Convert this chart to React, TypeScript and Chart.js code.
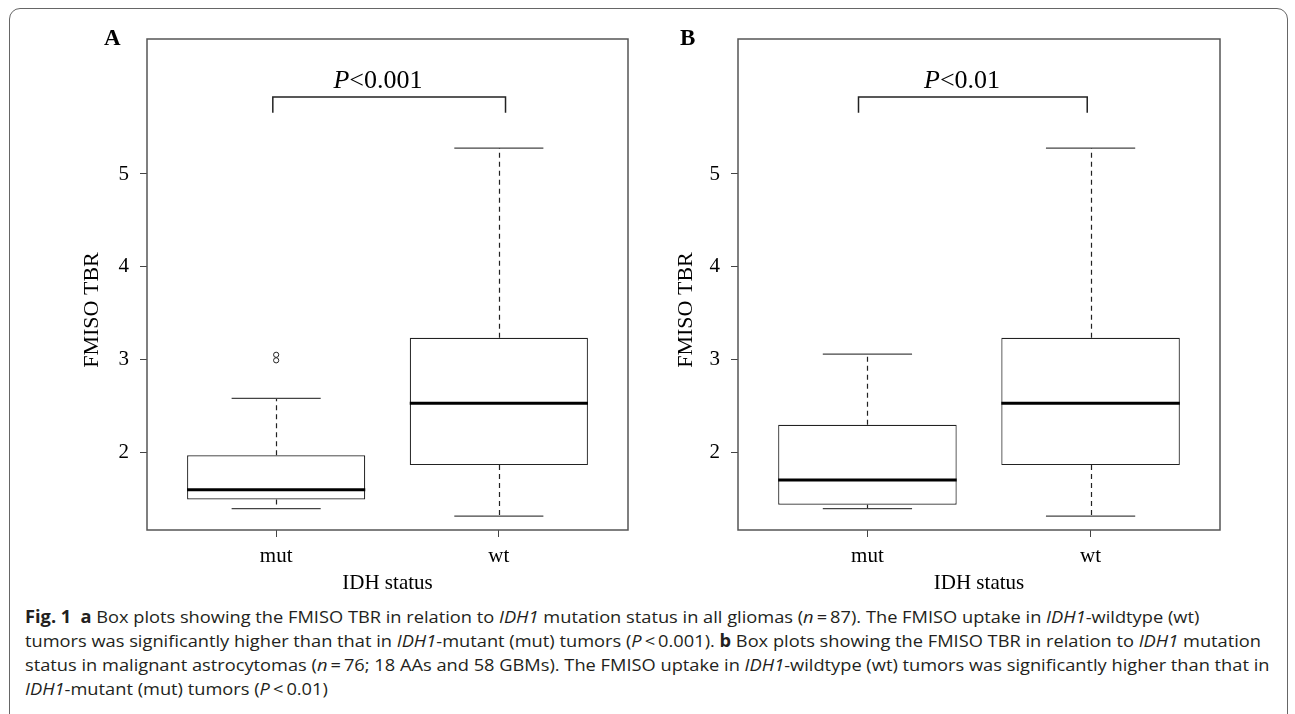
import React, { useEffect, useLayoutEffect, useRef } from 'react';
import { Chart, registerables } from 'chart.js';

Chart.register(...registerables);

// ---------------- data ----------------
const categories = ['mut', 'wt'];
const categoryPositions = [1, 2];
const yTickValues = [2, 3, 4, 5];

// Panel A (all gliomas)
const aLow = [1.39, 1.31];
const aQ1 = [1.49, 1.86];
const aMedian = [1.595, 2.526];
const aQ3 = [1.965, 3.234];
const aHigh = [2.58, 5.28];
const aOutlierCategory = [1, 1];
const aOutlierValue = [3.05, 2.99];

// Panel B (malignant astrocytomas)
const bLow = [1.39, 1.31];
const bQ1 = [1.433, 1.86];
const bMedian = [1.699, 2.526];
const bQ3 = [2.296, 3.234];
const bHigh = [3.058, 5.28];
const bOutlierCategory: number[] = [];
const bOutlierValue: number[] = [];

const pValueTexts = ['<0.001', '<0.01'];
const panelLetters = ['A', 'B'];
const yAxisTitle = 'FMISO TBR';
const xAxisTitle = 'IDH status';

// ---------------- layout / style ----------------
const SERIF = '"Liberation Serif", "Times New Roman", Times, serif';
const Y_MIN = 1.16;
const Y_MAX = 6.456;
const X_MIN = 0.42;
const X_MAX = 2.58;
const CANVAS_H = 600;

type Panel = {
  low: number[]; q1: number[]; median: number[]; q3: number[]; high: number[];
  outCat: number[]; outVal: number[];
  pText: string; letter: string;
  canvasLeft: number; canvasWidth: number; yAxisWidth: number; rightPad: number;
  yTitleX: number; yTitleY: number; letterLeft: number;
  bracketX: [number, number]; bracketY: [number, number]; pX: number; pY: number;
};

const panels: Panel[] = [
  {
    low: aLow, q1: aQ1, median: aMedian, q3: aQ3, high: aHigh,
    outCat: aOutlierCategory, outVal: aOutlierValue,
    pText: pValueTexts[0], letter: panelLetters[0],
    canvasLeft: 0, canvasWidth: 645, yAxisWidth: 147, rightPad: 17,
    yTitleX: 92, yTitleY: 310, letterLeft: 104,
    bracketX: [0.985, 2.03], bracketY: [5.66, 5.83], pX: 1.457, pY: 5.93,
  },
  {
    low: bLow, q1: bQ1, median: bMedian, q3: bQ3, high: bHigh,
    outCat: bOutlierCategory, outVal: bOutlierValue,
    pText: pValueTexts[1], letter: panelLetters[1],
    canvasLeft: 645, canvasWidth: 650, yAxisWidth: 93, rightPad: 75,
    yTitleX: 41, yTitleY: 310, letterLeft: 680,
    bracketX: [0.96, 1.985], bracketY: [5.66, 5.83], pX: 1.424, pY: 5.93,
  },
];

const boxExtras = {
  id: 'boxExtras',
  afterDatasetsDraw(chart: any, _args: any, opts: any) {
    const p: Panel = opts.panel;
    const { ctx, chartArea } = chart;
    const xs = chart.scales.x;
    const ys = chart.scales.y;
    const X = (v: number) => xs.getPixelForValue(v);
    const Y = (v: number) => ys.getPixelForValue(v);
    const seg = (x1: number, y1: number, x2: number, y2: number) => {
      ctx.beginPath();
      ctx.moveTo(x1, y1);
      ctx.lineTo(x2, y2);
      ctx.stroke();
    };
    ctx.save();
    categoryPositions.forEach((pos, i) => {
      const cx = Math.round(X(pos)) + 0.5;
      ctx.strokeStyle = '#222';
      ctx.lineWidth = 1.2;
      ctx.setLineDash([5, 4]);
      seg(cx, Y(p.q3[i]), cx, Y(p.high[i]));
      seg(cx, Y(p.q1[i]), cx, Y(p.low[i]));
      ctx.setLineDash([]);
      ctx.strokeStyle = '#444';
      seg(X(pos - 0.2), Y(p.high[i]), X(pos + 0.2), Y(p.high[i]));
      seg(X(pos - 0.2), Y(p.low[i]), X(pos + 0.2), Y(p.low[i]));
      ctx.strokeStyle = '#000';
      ctx.lineWidth = 3;
      seg(X(pos - 0.4), Y(p.median[i]), X(pos + 0.4), Y(p.median[i]));
    });
    // frame
    ctx.strokeStyle = '#555';
    ctx.lineWidth = 1.5;
    ctx.strokeRect(chartArea.left, chartArea.top, chartArea.right - chartArea.left, chartArea.bottom - chartArea.top);
    // significance bracket
    ctx.strokeStyle = '#222';
    ctx.lineWidth = 1.5;
    ctx.beginPath();
    ctx.moveTo(X(p.bracketX[0]), Y(p.bracketY[0]));
    ctx.lineTo(X(p.bracketX[0]), Y(p.bracketY[1]));
    ctx.lineTo(X(p.bracketX[1]), Y(p.bracketY[1]));
    ctx.lineTo(X(p.bracketX[1]), Y(p.bracketY[0]));
    ctx.stroke();
    // P text
    ctx.fillStyle = '#000';
    ctx.textBaseline = 'alphabetic';
    ctx.textAlign = 'left';
    ctx.font = `italic 26px ${SERIF}`;
    const wP = ctx.measureText('P').width;
    ctx.font = `26px ${SERIF}`;
    const wR = ctx.measureText(p.pText).width;
    const sx = X(p.pX) - (wP + wR) / 2;
    const by = Y(p.pY);
    ctx.font = `italic 26px ${SERIF}`;
    ctx.fillText('P', sx, by);
    ctx.font = `26px ${SERIF}`;
    ctx.fillText(p.pText, sx + wP, by);
    // y axis title
    ctx.translate(p.yTitleX, p.yTitleY);
    ctx.rotate(-Math.PI / 2);
    ctx.textAlign = 'center';
    ctx.textBaseline = 'middle';
    ctx.font = `22px ${SERIF}`;
    ctx.fillText(yAxisTitle, 0, 0);
    ctx.restore();
  },
};

function PanelChart({ p }: { p: Panel }) {
  const ref = useRef<HTMLCanvasElement | null>(null);
  useEffect(() => {
    if (!ref.current) return;
    const font = { family: SERIF, size: 21 };
    const chart = new Chart(ref.current, {
      type: 'bar',
      data: {
        datasets: [
          {
            type: 'bar',
            data: categoryPositions.map((x, i) => ({ x, y: [p.q1[i], p.q3[i]] })) as any,
            backgroundColor: '#ffffff',
            borderColor: '#222',
            borderWidth: 1.2,
            borderSkipped: false,
            barPercentage: 0.8,
            categoryPercentage: 1,
            order: 2,
          } as any,
          {
            type: 'scatter',
            data: p.outCat.map((c, i) => ({ x: c, y: p.outVal[i] })),
            pointStyle: 'circle',
            pointRadius: 2.6,
            borderColor: '#222',
            backgroundColor: 'rgba(0,0,0,0)',
            borderWidth: 1,
            order: 0,
          } as any,
        ],
      },
      options: {
        responsive: false,
        animation: false,
        devicePixelRatio: 1,
        layout: { padding: { top: 39, left: 0, right: p.rightPad, bottom: 0 } },
        plugins: {
          legend: { display: false },
          tooltip: { enabled: false },
          boxExtras: { panel: p },
        } as any,
        scales: {
          x: {
            type: 'linear',
            min: X_MIN,
            max: X_MAX,
            offset: false,
            afterBuildTicks: (s: any) => { s.ticks = categoryPositions.map((v) => ({ value: v })); },
            afterFit: (s: any) => { s.height = CANVAS_H - 530; },
            ticks: {
              font,
              color: '#000',
              padding: 7,
              maxRotation: 0,
              autoSkip: false,
              callback: (v: any) => categories[categoryPositions.indexOf(Number(v))] ?? '',
            },
            grid: { display: true, drawOnChartArea: false, drawTicks: true, tickLength: 7, color: '#444', offset: false },
            border: { display: false },
            title: { display: true, text: xAxisTitle, font, color: '#000', padding: { top: 0, bottom: 4 } },
          },
          y: {
            type: 'linear',
            min: Y_MIN,
            max: Y_MAX,
            afterBuildTicks: (s: any) => { s.ticks = yTickValues.map((v) => ({ value: v })); },
            afterFit: (s: any) => { s.width = p.yAxisWidth; },
            ticks: { font, color: '#000', padding: 11, callback: (v: any) => String(v) },
            grid: { display: true, drawOnChartArea: false, drawTicks: true, tickLength: 7, color: '#444' },
            border: { display: false },
            title: { display: false },
          },
        } as any,
      },
      plugins: [boxExtras as any],
    });
    return () => chart.destroy();
  }, [p]);
  return (
    <canvas
      ref={ref}
      width={p.canvasWidth}
      height={CANVAS_H}
      style={{ position: 'absolute', left: p.canvasLeft, top: 0, width: p.canvasWidth, height: CANVAS_H }}
    />
  );
}

const captionRefLine = 1;
const captionRefWidth = 1236;
const captionTop = 605;
const captionLineHeight = 24;

export default function App() {
  const capRefs = useRef<(HTMLSpanElement | null)[]>([]);
  useLayoutEffect(() => {
    const els = capRefs.current;
    els.forEach((el) => { if (el) el.style.transform = 'none'; });
    const refEl = els[captionRefLine];
    if (!refEl) return;
    const w = refEl.getBoundingClientRect().width;
    if (w <= 0) return;
    const s = captionRefWidth / w;
    els.forEach((el) => { if (el) el.style.transform = `scaleX(${s})`; });
  }, []);

  const capLines: React.ReactNode[] = [
    <>
      <b>Fig. 1</b>{'\u2002'}<b>a</b> Box plots showing the FMISO TBR in relation to <i>IDH1</i> mutation status in all gliomas (<i>n</i>{'\u2009=\u2009'}87). The FMISO uptake in <i>IDH1</i>-wildtype (wt)
    </>,
    <>
      tumors was significantly higher than that in <i>IDH1</i>-mutant (mut) tumors (<i>P</i>{'\u2009<\u2009'}0.001). <b>b</b> Box plots showing the FMISO TBR in relation to <i>IDH1</i> mutation
    </>,
    <>
      status in malignant astrocytomas (<i>n</i>{'\u2009=\u2009'}76; 18 AAs and 58 GBMs). The FMISO uptake in <i>IDH1</i>-wildtype (wt) tumors was significantly higher than that in
    </>,
    <>
      <i>IDH1</i>-mutant (mut) tumors (<i>P</i>{'\u2009<\u2009'}0.01)
    </>,
  ];

  return (
    <div style={{ position: 'absolute', left: 0, top: 0, width: 1295, height: 714, overflow: 'hidden', background: '#fff' }}>
      <div
        style={{
          position: 'absolute', left: 9, top: 8, width: 1279, height: 760,
          border: '1.5px solid #666', borderRadius: 11, boxSizing: 'border-box',
        }}
      />
      {panels.map((p) => (
        <React.Fragment key={p.letter}>
          <PanelChart p={p} />
          <div
            style={{
              position: 'absolute', left: p.letterLeft, top: 24, fontFamily: SERIF, fontWeight: 'bold',
              fontSize: 23, lineHeight: '28px', color: '#000',
            }}
          >
            {p.letter}
          </div>
        </React.Fragment>
      ))}
      {capLines.map((line, i) => (
        <div
          key={i}
          style={{
            position: 'absolute', left: 25, top: captionTop + i * captionLineHeight, height: captionLineHeight,
            lineHeight: `${captionLineHeight}px`, whiteSpace: 'nowrap',
          }}
        >
          <span
            ref={(el) => { capRefs.current[i] = el; }}
            style={{
              display: 'inline-block', transformOrigin: 'left center',
              fontFamily: '"Open Sans", "Noto Sans", sans-serif',
              fontSize: 17, color: '#231f20',
            }}
          >
            {line}
          </span>
        </div>
      ))}
    </div>
  );
}
